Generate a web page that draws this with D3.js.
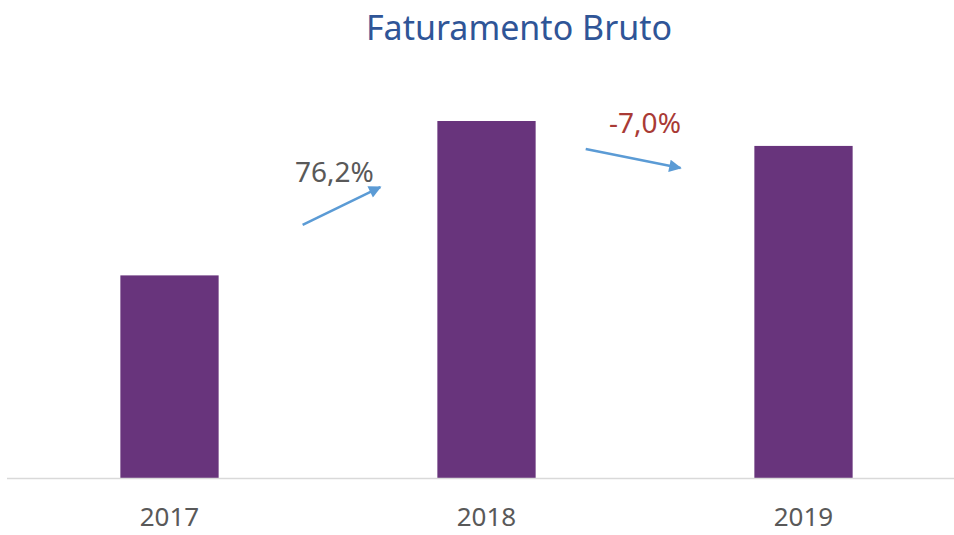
<!DOCTYPE html>
<html lang="pt">
<head>
<meta charset="UTF-8">
<title>Faturamento Bruto</title>
<script src="https://cdnjs.cloudflare.com/ajax/libs/d3/7.8.5/d3.min.js"></script>
<style>
  body { margin: 0; background: #fff; font-family: "Noto Sans", "Open Sans", sans-serif; }
</style>
</head>
<body>
<div id="chart"></div>
<script>
// data
const years = ["2017", "2018", "2019"];
const values = [100, 176.2, 163.9];
// growth annotations between consecutive years
const growthLabels = ["76,2%", "-7,0%"];
const growthColors = ["#595959", "#a93a35"];

const width = 954, height = 535;
const svg = d3.select("#chart").append("svg")
  .attr("width", width).attr("height", height);

const x = d3.scaleBand().domain(years).range([11, 962]).paddingInner(0.69).paddingOuter(0.345);
const y = d3.scaleLinear().domain([0, 176.2]).range([478, 121]);

svg.append("text")
  .attr("x", 519).attr("y", 40)
  .attr("text-anchor", "middle")
  .attr("font-size", 34)
  .attr("fill", "#2f5597")
  .text("Faturamento Bruto");

svg.selectAll("rect.bar")
  .data(values)
  .join("rect")
  .attr("class", "bar")
  .attr("x", (d, i) => x(years[i]))
  .attr("width", x.bandwidth())
  .attr("y", d => y(d))
  .attr("height", d => y(0) - y(d))
  .attr("fill", "#68347c");

// baseline
svg.append("line")
  .attr("x1", 7).attr("x2", width)
  .attr("y1", y(0) + 0.5).attr("y2", y(0) + 0.5)
  .attr("stroke", "#d9d9d9").attr("stroke-width", 1.5);

const axis = svg.append("g")
  .attr("transform", `translate(0,${y(0)})`)
  .call(d3.axisBottom(x).tickSize(0).tickPadding(30));
axis.select(".domain").remove();
axis.selectAll("text")
  .attr("font-size", 26)
  .attr("font-family", "Noto Sans, sans-serif")
  .attr("fill", "#595959");

// arrows between bars
const defs = svg.append("defs");
defs.append("marker")
  .attr("id", "head")
  .attr("viewBox", "0 0 10 10")
  .attr("refX", 9).attr("refY", 5)
  .attr("markerWidth", 6).attr("markerHeight", 5)
  .attr("markerUnits", "strokeWidth")
  .attr("orient", "auto")
  .append("path").attr("d", "M0,0 L10,5 L0,10 z").attr("fill", "#5b9bd5");

const cx = i => x(years[i]) + x.bandwidth() / 2;
const between = (i, f) => cx(i) + f * (cx(i + 1) - cx(i));

const arrows = [
  { i: 0, f0: 0.42, v0: 124.9, f1: 0.665, v1: 143.6, lf: 0.52, lv: 146 },
  { i: 1, f0: 0.313, v0: 162.4, f1: 0.612, v1: 153.0, lf: 0.5, lv: 170.5 }
];

arrows.forEach((a, k) => {
  svg.append("line")
    .attr("x1", between(a.i, a.f0)).attr("y1", y(a.v0))
    .attr("x2", between(a.i, a.f1)).attr("y2", y(a.v1))
    .attr("stroke", "#5b9bd5").attr("stroke-width", 2.5)
    .attr("marker-end", "url(#head)");
  svg.append("text")
    .attr("x", between(a.i, a.lf)).attr("y", y(a.lv))
    .attr("text-anchor", "middle")
    .attr("font-size", 28)
    .attr("fill", growthColors[k])
    .text(growthLabels[k]);
});
</script>
</body>
</html>
